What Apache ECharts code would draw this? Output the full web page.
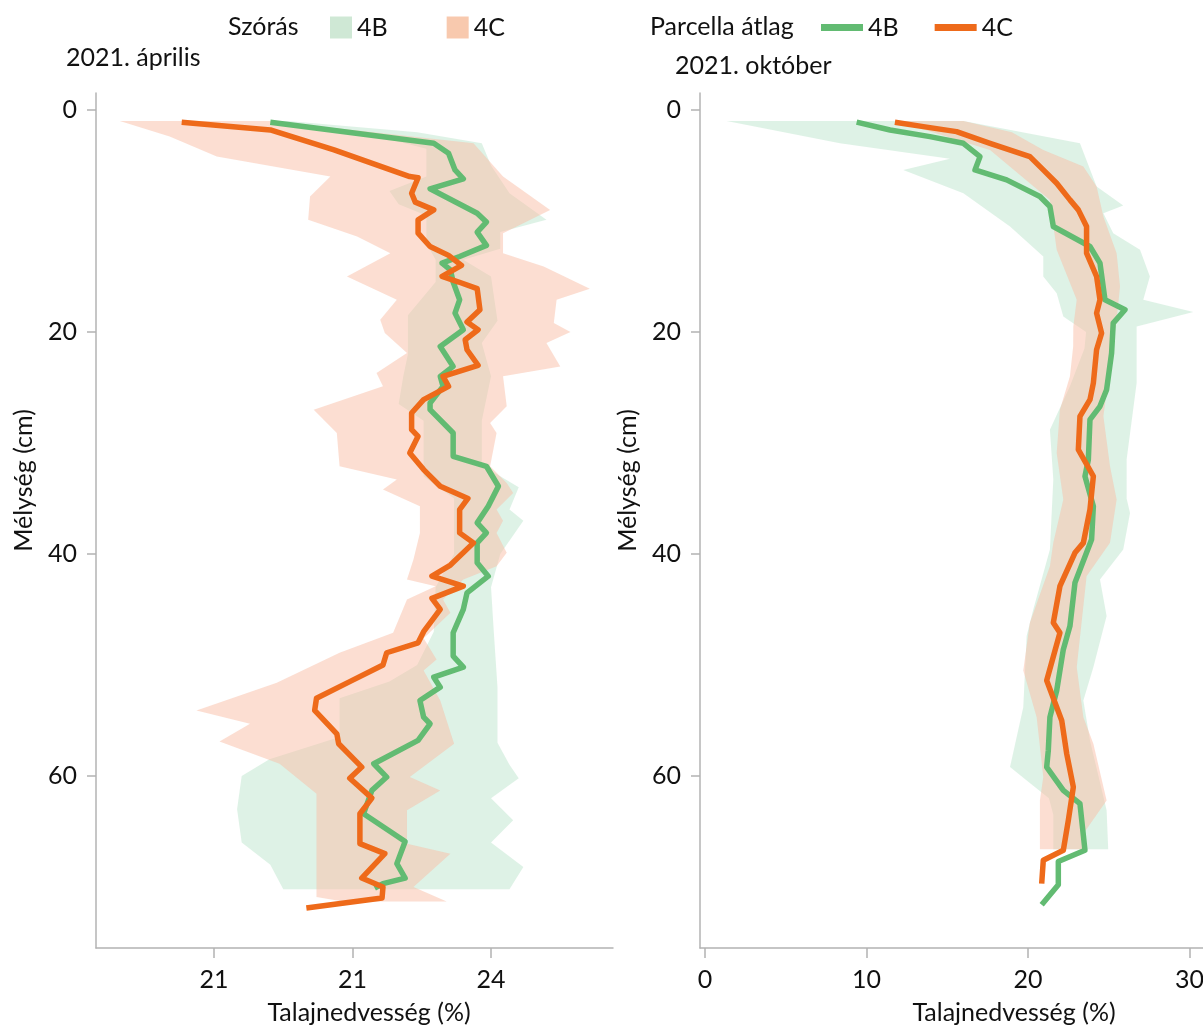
<!DOCTYPE html>
<html>
<head>
<meta charset="utf-8">
<script src="https://cdn.jsdelivr.net/npm/echarts@6/dist/echarts.min.js"></script>
<style>
  html, body { margin: 0; padding: 0; background: #fff; }
  #mChart { width: 1203px; height: 1027px; }
</style>
</head>
<body>
<div id="mChart"></div>
<script>
// mélység (cm) a függőleges tengelyen, nedvesség a vízszintesen: [érték, mélység]
var depthTicks = [0, 20, 40, 60];
var aprXTicks = [21, 22.5, 24];
var aprXLabels = ['21', '21', '24'];
var octXTicks = [0, 10, 20, 30];
var octXLabels = ['0', '10', '20', '30'];

// 2021. április - átlag
var aprMean4B = [[21.61,1.1],[23.38,3.0],[23.54,3.9],[23.61,5.4],[23.70,6.2],[23.34,7.1],[23.85,9.3],[23.95,10.1],[23.85,11.0],[23.95,12.2],[23.66,13.2],[23.47,13.8],[23.56,14.4],[23.59,15.5],[23.66,17.1],[23.61,18.3],[23.70,19.8],[23.45,21.3],[23.59,23.1],[23.45,24.0],[23.48,24.9],[23.34,26.4],[23.34,27.0],[23.59,29.1],[23.59,31.2],[23.95,32.1],[24.08,33.9],[23.97,35.7],[23.85,37.2],[23.95,38.1],[23.85,39.0],[23.85,40.8],[23.97,42.0],[23.74,43.5],[23.70,45.0],[23.59,47.1],[23.59,49.2],[23.70,50.2],[23.38,51.1],[23.45,52.0],[23.23,53.2],[23.27,54.7],[23.34,55.3],[23.21,56.8],[22.73,58.9],[22.87,60.1],[22.71,61.3],[22.62,63.4],[23.07,65.9],[22.98,67.9],[23.07,69.2],[22.83,69.7],[22.74,70.1]];
var aprMean4C = [[20.65,1.1],[21.61,1.8],[22.3,3.6],[23.12,6.0],[23.21,6.1],[23.14,7.5],[23.18,8.3],[23.38,9.0],[23.21,9.9],[23.21,11.1],[23.34,12.3],[23.54,13.1],[23.68,14.0],[23.47,15.0],[23.65,15.5],[23.85,16.1],[23.88,18.0],[23.74,19.1],[23.86,19.8],[23.72,20.7],[23.74,21.6],[23.86,23.0],[23.48,24.0],[23.54,24.9],[23.27,26.1],[23.14,27.3],[23.14,28.8],[23.21,29.4],[23.12,30.9],[23.27,32.4],[23.45,33.9],[23.75,35.0],[23.66,36.0],[23.66,38.1],[23.81,39.0],[23.56,41.0],[23.36,42.0],[23.70,42.9],[23.36,44.0],[23.45,45.0],[23.27,47.0],[23.21,48.0],[22.87,48.9],[22.83,50.0],[22.47,51.5],[22.11,53.0],[22.09,54.1],[22.33,56.2],[22.35,57.1],[22.60,59.2],[22.47,60.2],[22.71,62.0],[22.58,63.4],[22.58,66.1],[22.85,67.0],[22.60,69.2],[22.83,70.0],[22.82,71.0],[22.00,71.9]];

// 2021. április - szórás (bal és jobb széle)
var aprSd4BLo = [[21.6,1.0],[22.6,2.0],[23.3,3.5],[23.3,6.0],[22.9,7.3],[23.0,8.5],[23.3,9.5],[23.3,12.0],[23.4,13.5],[23.4,15.5],[23.1,18.5],[23.1,22.0],[23.05,24.0],[23.0,26.5],[23.27,28.0],[23.27,33.0],[23.6,35.0],[23.6,40.0],[23.4,43.0],[23.38,47.0],[23.2,50.0],[22.9,51.5],[22.36,53.0],[22.36,56.5],[21.6,58.5],[21.3,60.0],[21.25,63.0],[21.3,66.0],[21.61,68.0],[21.75,70.2]];
var aprSd4BHi = [[21.8,1.0],[23.2,2.0],[23.9,3.0],[24.0,5.0],[24.2,7.5],[24.6,9.9],[24.1,11.0],[24.1,12.5],[23.7,13.5],[24.0,15.0],[24.07,19.0],[23.9,21.0],[24.0,24.0],[23.9,28.0],[23.9,32.0],[24.3,34.0],[24.2,36.0],[24.35,37.0],[24.1,40.0],[24.0,43.0],[24.03,47.0],[24.07,52.0],[24.07,57.0],[24.2,59.0],[24.3,60.2],[24.0,62.0],[24.24,64.0],[24.0,66.0],[24.35,68.2],[24.2,70.2]];
var aprSd4CLo = [[19.98,1.0],[20.52,2.4],[21.03,4.2],[22.26,6.0],[22.04,7.8],[22.02,9.9],[22.55,11.4],[22.91,12.9],[22.44,15.0],[22.98,17.1],[22.80,18.9],[22.85,20.1],[23.09,21.9],[22.76,23.7],[22.83,24.9],[22.08,27.0],[22.33,29.1],[22.36,32.1],[22.98,33.3],[22.83,34.2],[23.23,35.7],[23.23,38.1],[23.16,40.5],[23.09,42.3],[23.4,42.9],[23.09,44.1],[22.94,47.1],[22.36,48.9],[21.68,51.6],[20.81,54.1],[21.39,55.3],[21.06,56.9],[21.71,58.9],[22.11,61.6],[22.11,70.9],[22.4,71.3]];
var aprSd4CHi = [[21.61,1.0],[23.81,3.0],[24.13,6.0],[24.64,9.0],[24.13,11.1],[24.13,12.9],[24.57,14.1],[25.07,16.1],[24.71,17.1],[24.68,19.2],[24.86,20.0],[24.60,21.0],[24.75,23.1],[24.13,24.0],[24.17,26.7],[23.99,28.2],[24.06,29.1],[23.99,32.1],[24.17,33.6],[24.24,34.5],[24.06,36.0],[24.13,37.0],[24.06,38.1],[24.17,39.9],[24.06,41.1],[23.70,42.3],[23.48,44.1],[23.56,45.3],[23.27,47.6],[23.41,49.5],[23.27,50.5],[23.45,53.2],[23.6,57.1],[23.12,60.1],[23.45,61.3],[23.09,63.1],[23.09,66.1],[23.56,67.0],[23.16,70.0],[23.52,71.3]];

// 2021. október - átlag
var octMean4B = [[9.39,1.1],[11.46,1.8],[13.93,2.4],[16.0,3.0],[17.03,4.2],[16.72,5.4],[18.68,6.3],[20.74,7.8],[21.36,8.7],[21.57,10.5],[23.84,12.3],[24.46,13.8],[24.77,17.1],[26.01,18.0],[25.28,19.2],[25.18,21.9],[24.87,25.2],[24.46,26.7],[23.84,27.9],[23.74,31.5],[23.53,33.0],[24.05,35.7],[23.94,38.7],[22.91,42.6],[22.60,46.5],[22.19,48.6],[21.78,52.3],[21.36,54.7],[21.26,57.7],[21.16,59.2],[22.19,61.3],[23.22,62.5],[23.53,66.7],[21.88,67.7],[21.88,69.8],[20.85,71.6]];
var octMean4C = [[11.76,1.1],[13.52,1.5],[15.58,1.95],[17.65,3.0],[20.12,4.2],[20.95,5.4],[21.78,6.6],[22.6,8.1],[23.12,9.0],[23.63,10.5],[23.63,12.9],[24.25,15.0],[24.46,17.1],[24.25,18.3],[24.56,20.1],[24.25,21.6],[24.05,24.6],[23.84,26.1],[23.22,27.6],[23.12,30.6],[24.05,33.0],[23.84,36.0],[23.43,39.0],[22.91,39.9],[21.98,42.9],[21.57,46.2],[21.98,47.1],[21.16,51.4],[22.09,55.0],[22.40,58.0],[22.81,61.0],[22.50,64.0],[22.19,66.7],[20.95,67.6],[20.85,69.7]];

// 2021. október - szórás
var octSd4BLo = [[1.34,1.0],[8.36,3.0],[15.17,4.4],[12.28,5.4],[16.0,7.5],[18.89,10.5],[20.95,13.2],[20.95,15.0],[21.78,16.5],[22.19,18.6],[23.6,20.0],[23.5,21.5],[22.6,24.9],[21.36,28.8],[21.57,33.3],[21.36,39.6],[20.33,45.0],[19.92,47.4],[19.71,53.8],[18.89,59.2],[20.0,60.5],[21.3,62.0],[21.57,63.5],[21.57,66.6]];
var octSd4BHi = [[16.0,1.0],[23.22,3.0],[24.25,6.9],[25.9,8.6],[24.67,9.3],[25.28,11.1],[26.94,12.6],[27.55,15.0],[27.14,17.1],[30.24,18.2],[26.73,19.5],[26.73,24.6],[26.11,31.5],[26.11,35.0],[26.32,36.3],[25.9,39.6],[24.46,42.3],[24.87,45.6],[24.05,50.2],[23.43,53.2],[23.84,56.8],[24.87,63.1],[24.97,66.6]];
var octSd4CLo = [[11.87,1.0],[17.65,3.6],[21.36,8.1],[21.78,12.6],[23.02,17.1],[22.81,19.5],[22.8,21.3],[22.6,24.0],[21.98,27.0],[21.78,30.9],[22.19,35.1],[21.57,39.0],[21.36,41.1],[20.12,46.2],[19.71,50.5],[20.54,54.7],[20.95,60.1],[20.74,62.2],[20.74,66.6]];
var octSd4CHi = [[16.0,1.0],[19.0,2.0],[20.95,3.6],[23.43,5.1],[24.25,6.9],[24.67,9.6],[25.49,12.9],[25.70,15.9],[25.49,18.9],[25.08,23.1],[24.67,27.6],[25.08,32.1],[25.49,35.1],[25.08,39.0],[23.63,42.0],[23.02,50.2],[23.43,54.7],[24.05,57.1],[24.87,62.2],[23.43,65.2],[23.43,66.6]];

var FONT = 'Lato';
var FS = 25;
var TXT = { fontFamily: FONT, fontSize: FS, color: '#111', fontWeight: 'normal' };
var GREEN = '#62bb72', ORANGE = '#ee6a1a';

function bandSeries(name, idx, lo, hi, fill, legendColor) {
  return {
    name: name, type: 'custom', xAxisIndex: idx, yAxisIndex: idx, silent: true,
    itemStyle: { color: legendColor },
    data: [lo[0]],
    renderItem: function (params, api) {
      var pts = lo.concat(hi.slice().reverse()).map(function (p) { return api.coord(p); });
      return { type: 'polygon', shape: { points: pts }, style: { fill: fill } };
    }
  };
}

function lineSeries(name, idx, data, color) {
  return {
    name: name, type: 'line', xAxisIndex: idx, yAxisIndex: idx, data: data,
    showSymbol: false, silent: true,
    lineStyle: { color: color, width: 5.5, join: 'round' },
    itemStyle: { color: color }
  };
}

function xAxisFor(idx, min, max, ticks, labels, pad) {
  return {
    type: 'value', gridIndex: idx, min: min, max: max,
    splitLine: { show: false },
    axisLine: { show: true, onZero: false, lineStyle: { color: '#b3b3b3', width: 1.5 } },
    axisTick: { show: true, length: 10, customValues: ticks, lineStyle: { color: '#b3b3b3', width: 1.5 } },
    axisLabel: {
      customValues: ticks, margin: 19, fontFamily: FONT, fontSize: FS, color: '#111',
      formatter: function (v) { return labels[ticks.indexOf(v)]; }
    },
    name: 'Talajnedvesség (%)', nameLocation: 'middle', nameGap: 52,
    nameTextStyle: { fontFamily: FONT, fontSize: FS, color: '#111', padding: [0, 0, 0, pad] }
  };
}

function yAxisFor(idx) {
  return {
    type: 'value', gridIndex: idx, inverse: true, min: -1.53, max: 75.5,
    splitLine: { show: false },
    axisLine: { show: true, onZero: false, lineStyle: { color: '#b3b3b3', width: 1.5 } },
    axisTick: { show: true, length: 9, customValues: depthTicks, lineStyle: { color: '#b3b3b3', width: 1.5 } },
    axisLabel: { customValues: depthTicks, margin: 19, fontFamily: FONT, fontSize: FS, color: '#111' },
    name: 'Mélység (cm)', nameLocation: 'middle', nameGap: 60, nameRotate: 90,
    nameTextStyle: { fontFamily: FONT, fontSize: FS, color: '#111', padding: [0, 0, 0, 80] }
  };
}

var myChart = echarts.init(document.getElementById('mChart'));
myChart.setOption({
  animation: false,
  backgroundColor: '#fff',
  textStyle: { fontFamily: FONT },
  title: [
    { text: 'Szórás', left: 228, top: 14, padding: 0, textStyle: TXT },
    { text: 'Parcella átlag', left: 650, top: 14, padding: 0, textStyle: TXT },
    { text: '2021. április', left: 66, top: 45, padding: 0, textStyle: TXT },
    { text: '2021. október', left: 675, top: 53, padding: 0, textStyle: TXT }
  ],
  legend: [
    {
      left: 330, top: 15, padding: 0, itemWidth: 22, itemHeight: 22, itemGap: 59,
      data: [{ name: 'Szórás 4B', icon: 'rect' }, { name: 'Szórás 4C', icon: 'rect' }],
      formatter: function (n) { return n.split(' ').pop(); },
      textStyle: TXT, selectedMode: false
    },
    {
      left: 821, top: 15, padding: 0, itemWidth: 42, itemHeight: 7, itemGap: 36,
      data: [{ name: 'Átlag 4B', icon: 'rect' }, { name: 'Átlag 4C', icon: 'rect' }],
      formatter: function (n) { return n.split(' ').pop(); },
      textStyle: TXT, selectedMode: false
    }
  ],
  grid: [
    { left: 96, top: 93, width: 517, height: 855, outerBoundsMode: 'none' },
    { left: 700, top: 93, width: 503, height: 855, outerBoundsMode: 'none' }
  ],
  xAxis: [
    xAxisFor(0, 19.722, 25.321, aprXTicks, aprXLabels, 29),
    xAxisFor(1, -0.31, 30.84, octXTicks, octXLabels, 125)
  ],
  yAxis: [yAxisFor(0), yAxisFor(1)],
  series: [
    bandSeries('Szórás 4B', 0, aprSd4BLo, aprSd4BHi, 'rgba(123,203,155,0.25)', '#cfe8d5'),
    bandSeries('Szórás 4C', 0, aprSd4CLo, aprSd4CHi, 'rgba(249,189,165,0.5)', '#f8c9ae'),
    bandSeries('Szórás 4B', 1, octSd4BLo, octSd4BHi, 'rgba(123,203,155,0.25)', '#cfe8d5'),
    bandSeries('Szórás 4C', 1, octSd4CLo, octSd4CHi, 'rgba(249,189,165,0.5)', '#f8c9ae'),
    lineSeries('Átlag 4B', 0, aprMean4B, GREEN),
    lineSeries('Átlag 4C', 0, aprMean4C, ORANGE),
    lineSeries('Átlag 4B', 1, octMean4B, GREEN),
    lineSeries('Átlag 4C', 1, octMean4C, ORANGE)
  ]
});
</script>
</body>
</html>
